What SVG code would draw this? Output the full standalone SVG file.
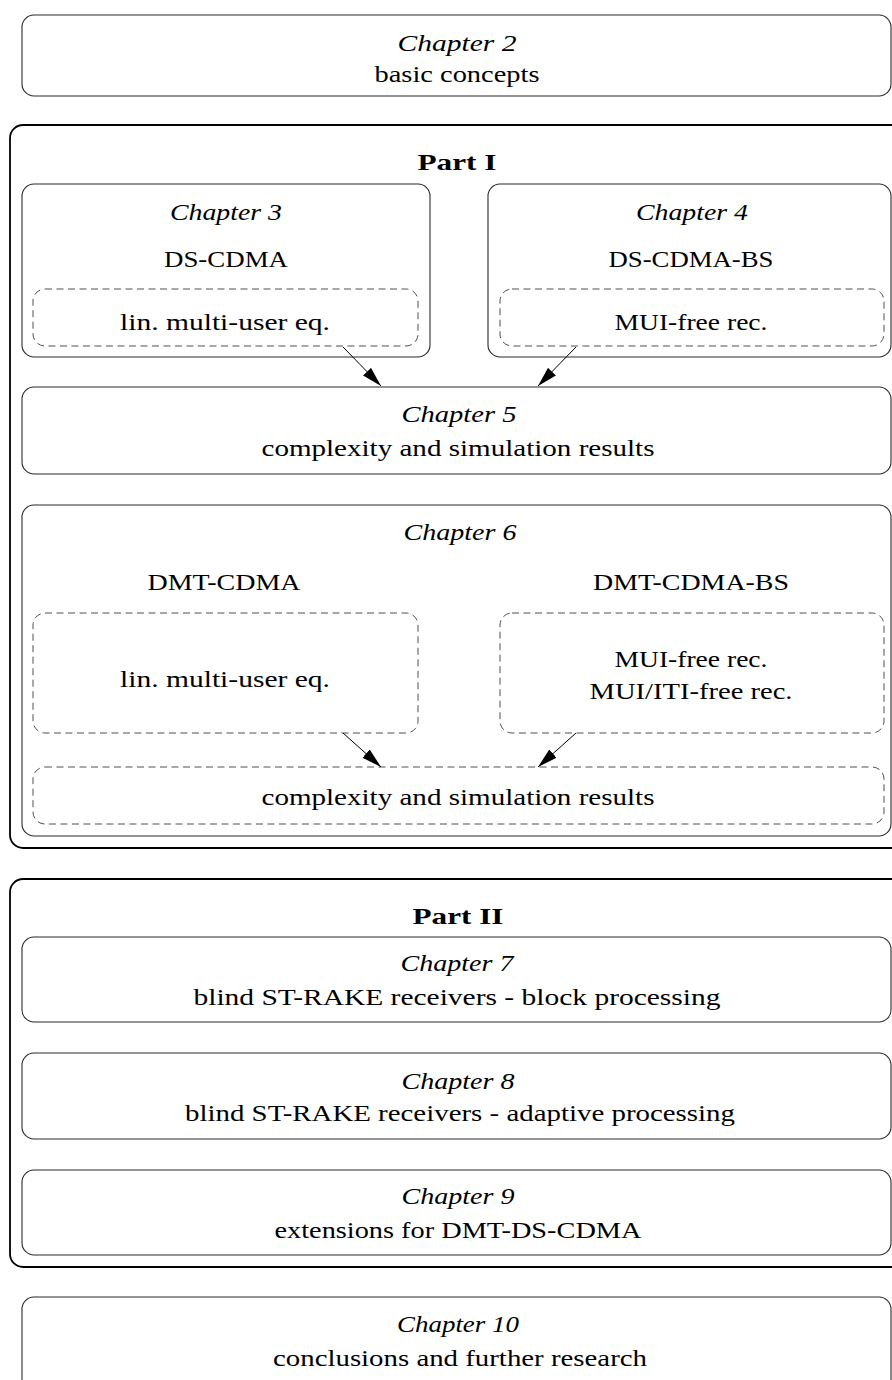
<svg xmlns="http://www.w3.org/2000/svg" width="892" height="1380" viewBox="0 0 892 1380">
  <style>
    .box { fill: none; stroke: #2a2a2a; stroke-width: 1.1; }
    .part { fill: none; stroke: #000; stroke-width: 1.8; }
    .dash { fill: none; stroke: #505050; stroke-width: 1; stroke-dasharray: 7 4.5; }
    .t { font-family: "Liberation Serif", "Times New Roman", serif; font-size: 23px; fill: #000; text-anchor: middle; }
    .it { font-style: italic; }
    .b { font-weight: bold; }
    .conn { stroke: #000; stroke-width: 1; fill: none; marker-end: url(#arrow); }
  </style>
  <defs>
    <marker id="arrow" viewBox="0 0 20 11" refX="20" refY="5.5" markerWidth="20" markerHeight="11" markerUnits="userSpaceOnUse" orient="auto">
      <path d="M0,0 L20,5.5 L0,11 z" fill="#000"/>
    </marker>
  </defs>

  <g id="chapter2">
    <rect class="box" x="22" y="15" width="869" height="81" rx="12"/>
    <text class="t it" x="457" y="51" textLength="119" lengthAdjust="spacingAndGlyphs">Chapter 2</text>
    <text class="t" x="457" y="82" textLength="165" lengthAdjust="spacingAndGlyphs">basic concepts</text>
  </g>

  <g id="part1">
    <rect class="part" x="10" y="125" width="900" height="723" rx="13"/>
    <text class="t b" x="457" y="170" textLength="79" lengthAdjust="spacingAndGlyphs">Part I</text>
  </g>

  <g id="chapter3">
    <rect class="box" x="22" y="184" width="408" height="173" rx="12"/>
    <text class="t it" x="226" y="220" textLength="112" lengthAdjust="spacingAndGlyphs">Chapter 3</text>
    <text class="t" x="226" y="267" textLength="124" lengthAdjust="spacingAndGlyphs">DS-CDMA</text>
    <g id="ch3-eq">
      <rect class="dash" x="33" y="289" width="385" height="57" rx="12"/>
      <text class="t" x="225" y="330" textLength="210" lengthAdjust="spacingAndGlyphs">lin. multi-user eq.</text>
    </g>
  </g>

  <g id="chapter4">
    <rect class="box" x="488" y="184" width="403" height="173" rx="12"/>
    <text class="t it" x="692" y="220" textLength="112" lengthAdjust="spacingAndGlyphs">Chapter 4</text>
    <text class="t" x="691" y="267" textLength="165" lengthAdjust="spacingAndGlyphs">DS-CDMA-BS</text>
    <g id="ch4-rec">
      <rect class="dash" x="500" y="289" width="384" height="57" rx="12"/>
      <text class="t" x="691" y="330" textLength="153" lengthAdjust="spacingAndGlyphs">MUI-free rec.</text>
    </g>
  </g>

  <g id="chapter5">
    <rect class="box" x="22" y="387" width="869" height="87" rx="12"/>
    <text class="t it" x="459" y="422" textLength="115" lengthAdjust="spacingAndGlyphs">Chapter 5</text>
    <text class="t" x="458" y="456" textLength="393" lengthAdjust="spacingAndGlyphs">complexity and simulation results</text>
  </g>

  <g id="chapter6">
    <rect class="box" x="22" y="505" width="869" height="331" rx="12"/>
    <text class="t it" x="460" y="540" textLength="113" lengthAdjust="spacingAndGlyphs">Chapter 6</text>
    <text class="t" x="224" y="590" textLength="153" lengthAdjust="spacingAndGlyphs">DMT-CDMA</text>
    <text class="t" x="691" y="590" textLength="196" lengthAdjust="spacingAndGlyphs">DMT-CDMA-BS</text>
    <g id="ch6-eq">
      <rect class="dash" x="33" y="613" width="385" height="120" rx="12"/>
      <text class="t" x="225" y="687" textLength="210" lengthAdjust="spacingAndGlyphs">lin. multi-user eq.</text>
    </g>
    <g id="ch6-rec">
      <rect class="dash" x="500" y="613" width="384" height="120" rx="12"/>
      <text class="t" x="691" y="667" textLength="153" lengthAdjust="spacingAndGlyphs">MUI-free rec.</text>
      <text class="t" x="691" y="699" textLength="203" lengthAdjust="spacingAndGlyphs">MUI/ITI-free rec.</text>
    </g>
    <g id="ch6-results">
      <rect class="dash" x="33" y="767" width="851" height="57" rx="12"/>
      <text class="t" x="458" y="805" textLength="393" lengthAdjust="spacingAndGlyphs">complexity and simulation results</text>
    </g>
  </g>

  <g id="part2">
    <rect class="part" x="10" y="879" width="900" height="388" rx="13"/>
    <text class="t b" x="458" y="924" textLength="91" lengthAdjust="spacingAndGlyphs">Part II</text>
  </g>

  <g id="chapter7">
    <rect class="box" x="22" y="937" width="869" height="85" rx="12"/>
    <text class="t it" x="457" y="971" textLength="113" lengthAdjust="spacingAndGlyphs">Chapter 7</text>
    <text class="t" x="457" y="1005" textLength="527" lengthAdjust="spacingAndGlyphs">blind ST-RAKE receivers - block processing</text>
  </g>

  <g id="chapter8">
    <rect class="box" x="22" y="1053" width="869" height="86" rx="12"/>
    <text class="t it" x="458" y="1089" textLength="113" lengthAdjust="spacingAndGlyphs">Chapter 8</text>
    <text class="t" x="460" y="1121" textLength="550" lengthAdjust="spacingAndGlyphs">blind ST-RAKE receivers - adaptive processing</text>
  </g>

  <g id="chapter9">
    <rect class="box" x="22" y="1170" width="869" height="85" rx="12"/>
    <text class="t it" x="458" y="1204" textLength="113" lengthAdjust="spacingAndGlyphs">Chapter 9</text>
    <text class="t" x="458" y="1238" textLength="367" lengthAdjust="spacingAndGlyphs">extensions for DMT-DS-CDMA</text>
  </g>

  <g id="chapter10">
    <rect class="box" x="22" y="1297" width="869" height="100" rx="12"/>
    <text class="t it" x="458" y="1332" textLength="122" lengthAdjust="spacingAndGlyphs">Chapter 10</text>
    <text class="t" x="460" y="1366" textLength="374" lengthAdjust="spacingAndGlyphs">conclusions and further research</text>
  </g>

  <g id="connectors">
    <line class="conn" x1="343" y1="347" x2="381" y2="386"/>
    <line class="conn" x1="576" y1="347" x2="538" y2="386"/>
    <line class="conn" x1="343" y1="733" x2="381" y2="767"/>
    <line class="conn" x1="576" y1="733" x2="538" y2="767"/>
  </g>
</svg>
